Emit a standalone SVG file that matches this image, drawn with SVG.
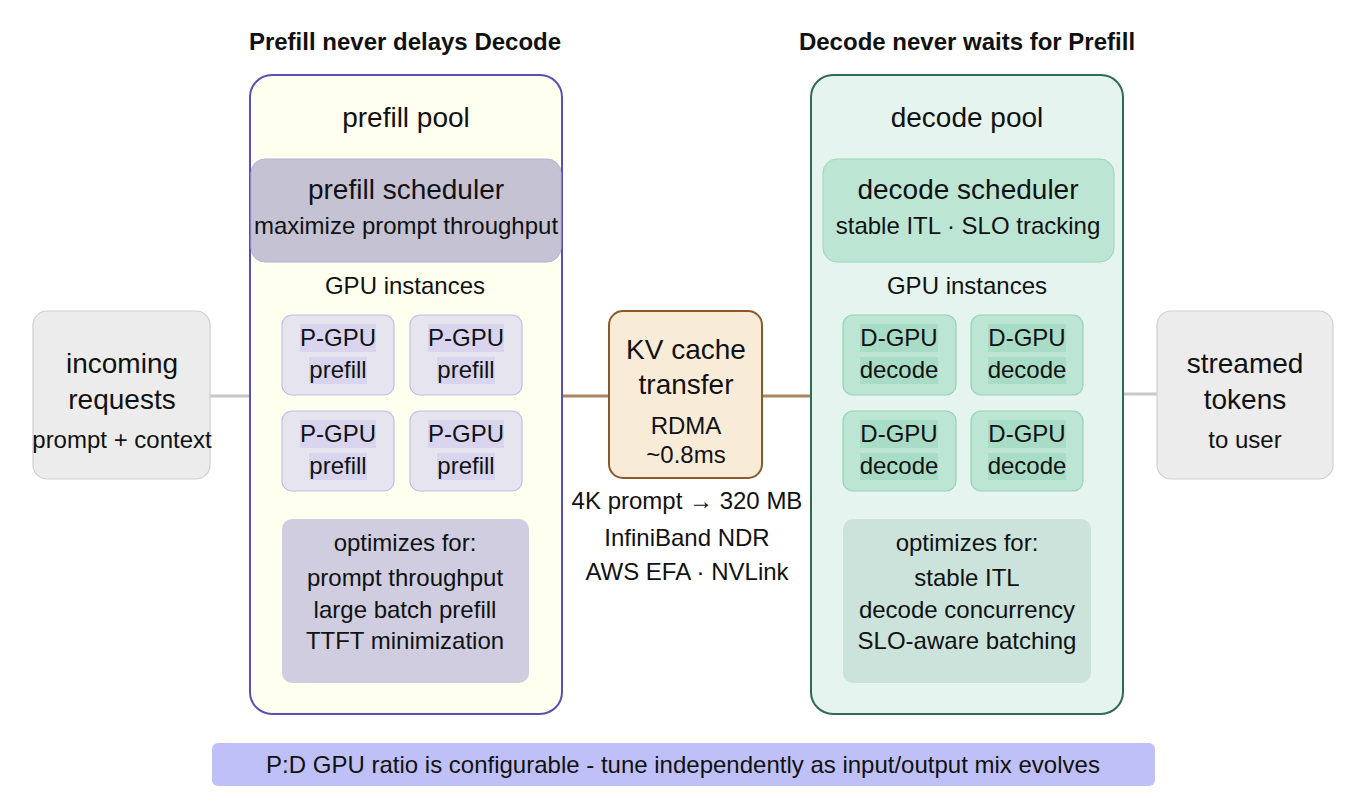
<svg xmlns="http://www.w3.org/2000/svg" width="1350" height="804" viewBox="0 0 1350 804">
<style>
text{font-family:"Liberation Sans",Arial,sans-serif;fill:#111;text-anchor:middle}
.h{font-weight:bold;font-size:24px}
.l{font-size:28px}
.m{font-size:24px}
.g{font-size:24px}
.pg{fill:#e6e4ef;stroke:#c3bde6;stroke-width:1.2}
.ph{fill:#d9d5ee}
.dg{fill:#bde5d4;stroke:#93d2b8;stroke-width:1.2}
.dh{fill:#a9dcc6}
.side{fill:#ececec;stroke:#cfcfcf;stroke-width:1.2}
</style>
<rect width="1350" height="804" fill="#ffffff"/>
<g id="connectors">
<line x1="210" y1="396" x2="250" y2="396" stroke="#c8c8c8" stroke-width="3"/>
<line x1="1123" y1="394" x2="1157" y2="394" stroke="#c8c8c8" stroke-width="3"/>
<line x1="562" y1="396" x2="609" y2="396" stroke="#a8865f" stroke-width="3"/>
<line x1="762" y1="396" x2="811" y2="396" stroke="#a8865f" stroke-width="3"/>
</g>
<g id="headers">
<text class="h" x="405" y="50">Prefill never delays Decode</text>
<text class="h" x="967" y="50">Decode never waits for Prefill</text>
</g>
<g id="prefill-pool">
<rect x="250" y="75" width="312" height="639" rx="22" fill="#fffff0" stroke="#5a4fb5" stroke-width="2"/>
<text class="l" x="406" y="127">prefill pool</text>
</g>
<g id="prefill-scheduler">
<rect x="251" y="159" width="310" height="103" rx="14" fill="#c5c2d4" stroke="#b6b0dd" stroke-width="1"/>
<text class="l" x="406" y="199">prefill scheduler</text>
<text class="m" x="406" y="234">maximize prompt throughput</text>
</g>
<text class="m" x="405" y="294">GPU instances</text>
<g id="pgpu1"><rect class="pg" x="282" y="315" width="112" height="80" rx="10"/><rect class="ph" x="300" y="324" width="76" height="28"/><rect class="ph" x="309" y="357" width="58" height="27"/><text class="g" x="338" y="346">P-GPU</text><text class="g" x="338" y="378">prefill</text></g>
<g id="pgpu2"><rect class="pg" x="410" y="315" width="112" height="80" rx="10"/><rect class="ph" x="428" y="324" width="76" height="28"/><rect class="ph" x="437" y="357" width="58" height="27"/><text class="g" x="466" y="346">P-GPU</text><text class="g" x="466" y="378">prefill</text></g>
<g id="pgpu3"><rect class="pg" x="282" y="411" width="112" height="80" rx="10"/><rect class="ph" x="300" y="420" width="76" height="28"/><rect class="ph" x="309" y="453" width="58" height="27"/><text class="g" x="338" y="442">P-GPU</text><text class="g" x="338" y="474">prefill</text></g>
<g id="pgpu4"><rect class="pg" x="410" y="411" width="112" height="80" rx="10"/><rect class="ph" x="428" y="420" width="76" height="28"/><rect class="ph" x="437" y="453" width="58" height="27"/><text class="g" x="466" y="442">P-GPU</text><text class="g" x="466" y="474">prefill</text></g>
<g id="prefill-optimizes">
<rect x="282" y="519" width="247" height="164" rx="10" fill="#d0cde0"/>
<text class="m" x="405" y="551">optimizes for:</text>
<text class="m" x="405" y="586">prompt throughput</text>
<text class="m" x="405" y="618">large batch prefill</text>
<text class="m" x="405" y="649">TTFT minimization</text>
</g>
<g id="decode-pool">
<rect x="811" y="75" width="312" height="639" rx="22" fill="#e5f4ee" stroke="#2f6a55" stroke-width="2"/>
<text class="l" x="967" y="127">decode pool</text>
</g>
<g id="decode-scheduler">
<rect x="823" y="159" width="291" height="103" rx="14" fill="#bde5d4" stroke="#9ad5bc" stroke-width="1"/>
<text class="l" x="968" y="199">decode scheduler</text>
<text class="m" x="968" y="234">stable ITL · SLO tracking</text>
</g>
<text class="m" x="967" y="294">GPU instances</text>
<g id="dgpu1"><rect class="dg" x="843" y="315" width="113" height="80" rx="10"/><rect class="dh" x="860" y="324" width="78" height="28"/><rect class="dh" x="860" y="357" width="78" height="27"/><text class="g" x="899" y="346">D-GPU</text><text class="g" x="899" y="378">decode</text></g>
<g id="dgpu2"><rect class="dg" x="971" y="315" width="112" height="80" rx="10"/><rect class="dh" x="988" y="324" width="78" height="28"/><rect class="dh" x="988" y="357" width="78" height="27"/><text class="g" x="1027" y="346">D-GPU</text><text class="g" x="1027" y="378">decode</text></g>
<g id="dgpu3"><rect class="dg" x="843" y="411" width="113" height="80" rx="10"/><rect class="dh" x="860" y="420" width="78" height="28"/><rect class="dh" x="860" y="453" width="78" height="27"/><text class="g" x="899" y="442">D-GPU</text><text class="g" x="899" y="474">decode</text></g>
<g id="dgpu4"><rect class="dg" x="971" y="411" width="112" height="80" rx="10"/><rect class="dh" x="988" y="420" width="78" height="28"/><rect class="dh" x="988" y="453" width="78" height="27"/><text class="g" x="1027" y="442">D-GPU</text><text class="g" x="1027" y="474">decode</text></g>
<g id="decode-optimizes">
<rect x="843" y="519" width="248" height="164" rx="10" fill="#cce3db"/>
<text class="m" x="967" y="551">optimizes for:</text>
<text class="m" x="967" y="586">stable ITL</text>
<text class="m" x="967" y="618">decode concurrency</text>
<text class="m" x="967" y="649">SLO-aware batching</text>
</g>
<g id="incoming">
<rect class="side" x="33" y="311" width="177" height="168" rx="14"/>
<text class="l" x="122" y="373">incoming</text>
<text class="l" x="122" y="409">requests</text>
<text class="m" x="122" y="448">prompt + context</text>
</g>
<g id="streamed">
<rect class="side" x="1157" y="311" width="176" height="168" rx="14"/>
<text class="l" x="1245" y="373">streamed</text>
<text class="l" x="1245" y="409">tokens</text>
<text class="m" x="1245" y="448">to user</text>
</g>
<g id="kv-cache">
<rect x="609" y="311" width="153" height="167" rx="14" fill="#f8ecd9" stroke="#8a5a2b" stroke-width="2"/>
<text class="l" x="686" y="359">KV cache</text>
<text class="l" x="686" y="394">transfer</text>
<text class="m" x="686" y="434">RDMA</text>
<text class="m" x="686" y="463">~0.8ms</text>
</g>
<g id="kv-notes">
<text class="m" x="687" y="509">4K prompt → 320 MB</text>
<text class="m" x="687" y="546">InfiniBand NDR</text>
<text class="m" x="687" y="580">AWS EFA · NVLink</text>
</g>
<g id="footer">
<rect x="212" y="743" width="943" height="43" rx="6" fill="#c0c0f8"/>
<text class="m" x="683" y="773">P:D GPU ratio is configurable - tune independently as input/output mix evolves</text>
</g>
</svg>
